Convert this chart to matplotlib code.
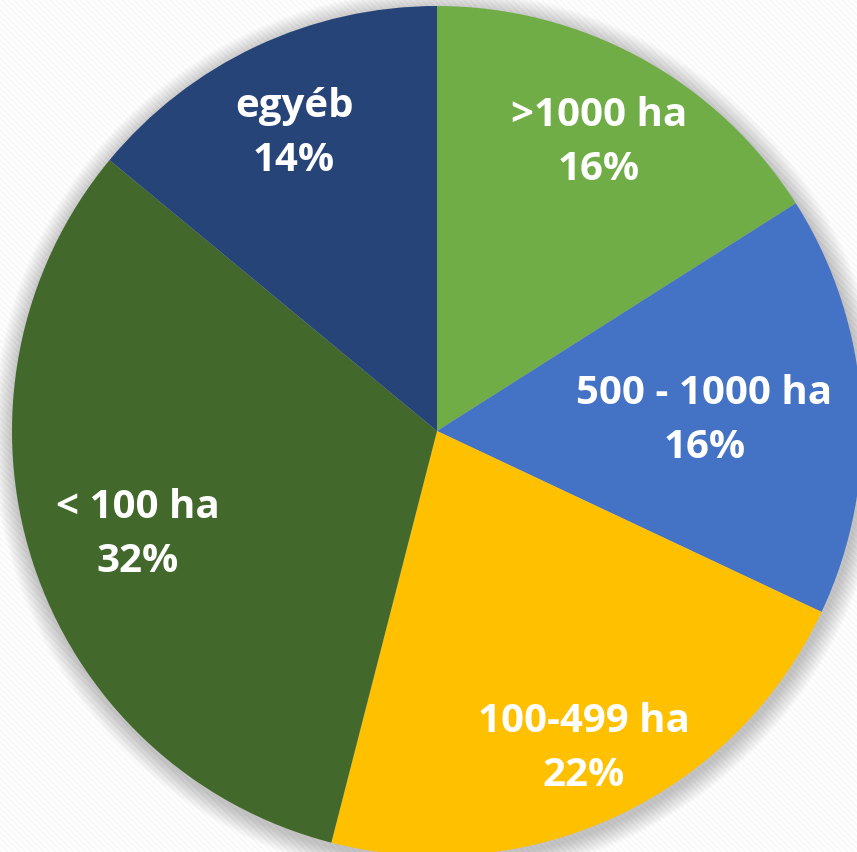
import numpy as np
import matplotlib.pyplot as plt
from matplotlib.patches import Circle

# slices, clockwise from 12 o'clock
categories = [">1000 ha", "500 - 1000 ha", "100-499 ha", "< 100 ha", "egyéb"]
shares = [16, 16, 22, 32, 14]
colors = ["#70AD47", "#4472C4", "#FFC000", "#43682B", "#264478"]
# how far out each label sits (fraction of radius)
label_radius = [0.79, 0.63, 0.81, 0.74, 0.79]

W, H = 857, 853
cx, cy, R = 437, 432, 425  # pixel centre / radius of the pie

fig = plt.figure(figsize=(W / 100, H / 100), dpi=100)

# striped background
bg = fig.add_axes([0, 0, 1, 1])
yy, xx = np.mgrid[0:H, 0:W]
stripes = np.where(((xx - yy) % 6) < 3, 0.972, 1.0)
bg.imshow(stripes, cmap="gray", vmin=0, vmax=1, aspect="auto", interpolation="nearest")
bg.axis("off")

ax = fig.add_axes([0, 0, 1, 1])
ax.set_facecolor("none")

# soft shadow round the pie
for i in range(12):
    ax.add_patch(Circle((0.004, -0.01), 1.0 + 0.004 * (12 - i), color="black",
                        alpha=0.018, lw=0, zorder=0))

wedges, _ = ax.pie(shares, colors=colors, startangle=90, counterclock=False,
                   radius=1.0, wedgeprops=dict(linewidth=0))
for w in wedges:
    w.set_zorder(2)

ax.set_aspect("auto")
ax.set_xlim(-cx / R, (W - cx) / R)
ax.set_ylim(-(H - cy) / R, cy / R)
ax.axis("off")

for w, name, share, rf in zip(wedges, categories, shares, label_radius):
    mid = np.deg2rad((w.theta1 + w.theta2) / 2)
    x, y = rf * np.cos(mid), rf * np.sin(mid) - 0.012
    ax.text(x, y, f"{name}\n{share}%", ha="center", va="center", color="white",
            fontsize=29, fontweight="bold", family="Open Sans",
            linespacing=1.5, zorder=3)

fig.savefig("out.png", dpi=100)
